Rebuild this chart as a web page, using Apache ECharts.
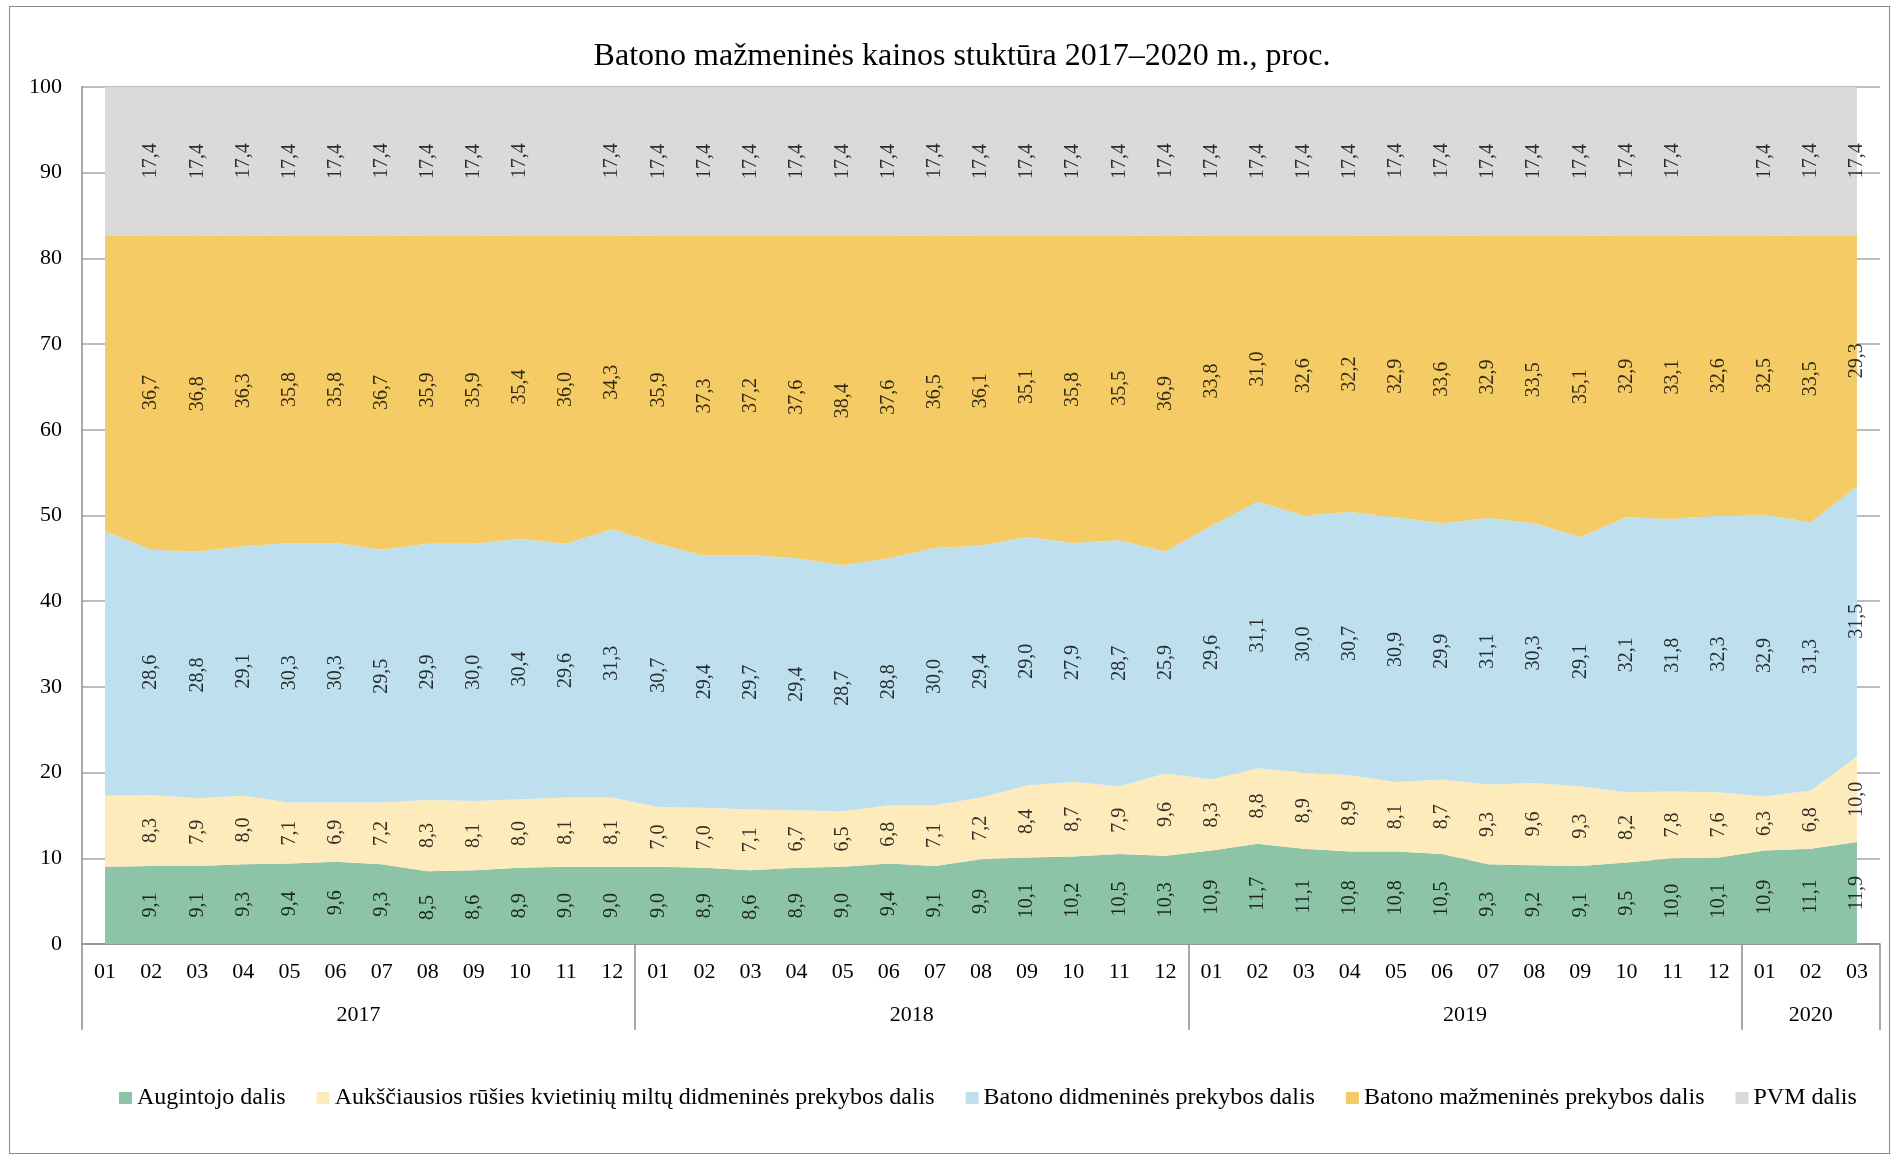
<!DOCTYPE html>
<html>
<head>
<meta charset="utf-8">
<title>Batono mažmeninės kainos stuktūra</title>
<script src="https://cdn.jsdelivr.net/npm/echarts@6/dist/echarts.min.js"></script>
<style>
  html, body { margin: 0; padding: 0; background: #fff; }
  #chart { position: absolute; left: 0; top: 0; width: 1894px; height: 1157px; }
  #frame { position: absolute; left: 9px; top: 6px; width: 1879px; height: 1146px; border: 1px solid #8a8a8a; pointer-events: none; }
</style>
</head>
<body>
<div id="chart"></div>
<div id="frame"></div>
<script>
// months along the x axis (2017-01 .. 2020-03)
const months = [
  '01', '02', '03', '04', '05', '06', '07', '08', '09', '10', '11', '12',
  '01', '02', '03', '04', '05', '06', '07', '08', '09', '10', '11', '12',
  '01', '02', '03', '04', '05', '06', '07', '08', '09', '10', '11', '12',
  '01', '02', '03'
]
const years = ['2017', '2018', '2019', '2020']
const yearStart = [0, 12, 24, 36]
const yearLength = [12, 12, 12, 3]

const augintojo = [
  9.0, 9.1, 9.1, 9.3, 9.4, 9.6, 9.3, 8.5, 8.6, 8.9, 9.0, 9.0,
  9.0, 8.9, 8.6, 8.9, 9.0, 9.4, 9.1, 9.9, 10.1, 10.2, 10.5, 10.3,
  10.9, 11.7, 11.1, 10.8, 10.8, 10.5, 9.3, 9.2, 9.1, 9.5, 10.0, 10.1,
  10.9, 11.1, 11.9
]
const miltai = [
  8.3, 8.3, 7.9, 8.0, 7.1, 6.9, 7.2, 8.3, 8.1, 8.0, 8.1, 8.1,
  7.0, 7.0, 7.1, 6.7, 6.5, 6.8, 7.1, 7.2, 8.4, 8.7, 7.9, 9.6,
  8.3, 8.8, 8.9, 8.9, 8.1, 8.7, 9.3, 9.6, 9.3, 8.2, 7.8, 7.6,
  6.3, 6.8, 10.0
]
const didmenine = [
  30.9, 28.6, 28.8, 29.1, 30.3, 30.3, 29.5, 29.9, 30.0, 30.4, 29.6, 31.3,
  30.7, 29.4, 29.7, 29.4, 28.7, 28.8, 30.0, 29.4, 29.0, 27.9, 28.7, 25.9,
  29.6, 31.1, 30.0, 30.7, 30.9, 29.9, 31.1, 30.3, 29.1, 32.1, 31.8, 32.3,
  32.9, 31.3, 31.5
]
const mazmenine = [
  34.4, 36.7, 36.8, 36.3, 35.8, 35.8, 36.7, 35.9, 35.9, 35.4, 36.0, 34.3,
  35.9, 37.3, 37.2, 37.6, 38.4, 37.6, 36.5, 36.1, 35.1, 35.8, 35.5, 36.9,
  33.8, 31.0, 32.6, 32.2, 32.9, 33.6, 32.9, 33.5, 35.1, 32.9, 33.1, 32.6,
  32.5, 33.5, 29.3
]
const pvm = [
  17.4, 17.4, 17.4, 17.4, 17.4, 17.4, 17.4, 17.4, 17.4, 17.4, 17.4, 17.4,
  17.4, 17.4, 17.4, 17.4, 17.4, 17.4, 17.4, 17.4, 17.4, 17.4, 17.4, 17.4,
  17.4, 17.4, 17.4, 17.4, 17.4, 17.4, 17.4, 17.4, 17.4, 17.4, 17.4, 17.4,
  17.4, 17.4, 17.4
]
const seriesNames = [
  'Augintojo dalis',
  'Aukščiausios rūšies kvietinių miltų didmeninės prekybos dalis',
  'Batono didmeninės prekybos dalis',
  'Batono mažmeninės prekybos dalis',
  'PVM dalis'
]
const seriesValues = [augintojo, miltai, didmenine, mazmenine, pvm]
const seriesColors = ['#8dc3a7', '#fdebbb', '#bddfee', '#f4cb65', '#dadada']

// no labels on the first month; two PVM labels are missing in the original
const pvmNoLabel = [10, 35]

const FONT = 'Liberation Serif'
const fmt = v => v.toFixed(1).replace('.', ',')

const chart = echarts.init(document.getElementById('chart'), null, { renderer: 'canvas' })

const areaSeries = seriesValues.map((vals, k) => ({
  name: seriesNames[k],
  type: 'line',
  stack: 'total',
  data: vals,
  symbol: 'none',
  lineStyle: { width: 0 },
  itemStyle: { color: seriesColors[k] },
  areaStyle: { color: seriesColors[k], opacity: 1 },
  silent: true,
  z: 2
}))

// labels sit in the middle of each band: stacked base + half of the value
const labelSeries = seriesValues.map((vals, k) => {
  const data = vals.map((v, i) => {
    if (i === 0) return '-'
    if (k === 4 && pvmNoLabel.indexOf(i) >= 0) return '-'
    let base = 0
    for (let j = 0; j < k; j++) base += seriesValues[j][i]
    return base + v / 2
  })
  return {
    type: 'scatter',
    data: data,
    symbolSize: 0,
    silent: true,
    z: 5,
    label: {
      show: true,
      position: 'inside',
      rotate: 90,
      color: '#000',
      fontFamily: FONT,
      fontSize: 20,
      formatter: p => fmt(vals[p.dataIndex])
    }
  }
})

chart.setOption({
  animation: false,
  backgroundColor: '#fff',
  textStyle: { fontFamily: FONT, color: '#000' },
  title: {
    text: 'Batono mažmeninės kainos stuktūra 2017–2020 m., proc.',
    left: 957,
    top: 36,
    textAlign: 'center',
    textStyle: { fontFamily: FONT, fontSize: 32, fontWeight: 'normal', color: '#000' }
  },
  legend: {
    data: seriesNames,
    left: 114,
    top: 1081,
    itemWidth: 13,
    itemHeight: 12,
    itemGap: 31,
    icon: 'rect',
    textStyle: { fontFamily: FONT, fontSize: 24, color: '#000' }
  },
  grid: { left: 82, right: 14, top: 87, bottom: 213, containLabel: false },
  xAxis: [{
    type: 'category',
    data: months,
    boundaryGap: true,
    axisLine: { show: true, lineStyle: { color: '#8c8c8c', width: 1.5 } },
    axisTick: { show: false },
    axisLabel: { interval: 0, margin: 17, fontFamily: FONT, fontSize: 22, color: '#000' },
    splitLine: { show: false }
  }, {
    // year row: long ticks at year borders, year names in the middle
    type: 'value',
    position: 'bottom',
    min: 0,
    max: 39,
    axisLine: { show: false },
    axisTick: {
      show: true,
      length: 86,
      customValues: yearStart.concat([39]),
      lineStyle: { color: '#8c8c8c', width: 1.5 }
    },
    axisLabel: {
      show: true,
      margin: 60,
      customValues: yearStart.map((s, i) => s + yearLength[i] / 2),
      formatter: v => {
        const i = yearStart.findIndex((s, j) => s + yearLength[j] / 2 === v)
        return i >= 0 ? years[i] : ''
      },
      fontFamily: FONT,
      fontSize: 22,
      color: '#000'
    },
    splitLine: { show: false }
  }],
  yAxis: {
    type: 'value',
    min: 0,
    max: 100,
    interval: 10,
    axisLine: { show: true, lineStyle: { color: '#8c8c8c', width: 1.5 } },
    axisTick: { show: false },
    axisLabel: { margin: 20, fontFamily: FONT, fontSize: 22, color: '#000' },
    splitLine: { show: true, lineStyle: { color: '#a6a6a6', width: 1.5 } }
  },
  series: areaSeries.concat(labelSeries)
})
</script>
</body>
</html>
